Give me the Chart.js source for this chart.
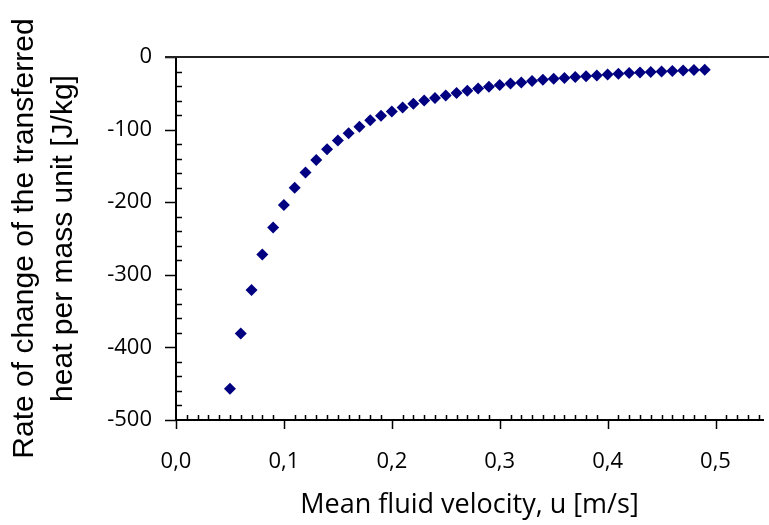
<!DOCTYPE html>
<html>
<head>
<meta charset="utf-8">
<script src="https://cdn.jsdelivr.net/npm/chart.js@4.4.1/dist/chart.umd.min.js"></script>
<style>
  body { margin: 0; background: #fff; }
  #wrap { width: 769px; height: 525px; position: relative; }
</style>
</head>
<body>
<div id="wrap"><canvas id="myChart"></canvas></div>
<script>
// mean fluid velocity u [m/s]
const velocity = [0.05, 0.06, 0.07, 0.08, 0.09, 0.10, 0.11, 0.12, 0.13, 0.14,
    0.15, 0.16, 0.17, 0.18, 0.19, 0.20, 0.21, 0.22, 0.23, 0.24,
    0.25, 0.26, 0.27, 0.28, 0.29, 0.30, 0.31, 0.32, 0.33, 0.34,
    0.35, 0.36, 0.37, 0.38, 0.39, 0.40, 0.41, 0.42, 0.43, 0.44,
    0.45, 0.46, 0.47, 0.48, 0.49];
// rate of change of transferred heat [J/kg]
const heatRate = [-457, -381, -321, -272, -235, -204, -180, -159, -142, -127,
    -115, -105, -96, -87, -81, -75, -69.5, -64.5, -60, -56.5,
    -53, -49.5, -46.5, -43.5, -41, -38.5, -36.5, -35, -33, -31.5,
    -30, -29, -27.5, -26.5, -25.5, -24, -23, -22, -21.5, -20.5,
    -20, -19.3, -18.5, -18, -17.5];
const xTicks = [0, 0.1, 0.2, 0.3, 0.4, 0.5];

const points = velocity.map((u, i) => ({x: u, y: heatRate[i]}));

// ticks like the excel plot: major outside, minor inside
const axisTicks = {
    id: 'axisTicks',
    afterDraw(chart) {
        const c = chart.ctx;
        const xs = chart.scales.x, ys = chart.scales.y;
        const ax = xs.getPixelForValue(0);
        const ay = ys.getPixelForValue(-500);
        c.save();
        c.strokeStyle = '#000';
        c.lineWidth = 1.5;
        c.beginPath();
        for (let v = -500; v <= 0; v += 20) {
            const py = Math.round(ys.getPixelForValue(v)) + 0.5;
            if (v % 100 === 0) { c.moveTo(ax - 11, py); c.lineTo(ax, py); }
            else { c.moveTo(ax, py); c.lineTo(ax + 6, py); }
        }
        for (let k = 0; k <= 54; k++) {
            const px = Math.round(xs.getPixelForValue(k / 100)) + 0.5;
            if (k % 10 === 0) { c.moveTo(px, ay); c.lineTo(px, ay + 9); }
            else { c.moveTo(px, ay); c.lineTo(px, ay - 5); }
        }
        c.stroke();
        // line at y = 0
        const y0 = ys.getPixelForValue(0);
        c.lineWidth = 2;
        c.strokeStyle = '#222';
        c.beginPath();
        c.moveTo(ax - 11, y0);
        c.lineTo(chart.width, y0);
        c.stroke();
        c.restore();
    }
};

const ctx = document.getElementById('myChart');
new Chart(ctx, {
    type: 'scatter',
    data: {
        datasets: [{
            label: 'heat',
            data: points,
            pointStyle: 'rectRot',
            pointRadius: 6,
            pointHoverRadius: 6,
            backgroundColor: '#000080',
            borderColor: '#000080',
            borderWidth: 0
        }]
    },
    options: {
        responsive: true,
        maintainAspectRatio: false,
        animation: false,
        layout: { padding: { top: 57, right: 0, left: 0, bottom: 0 } },
        plugins: {
            legend: { display: false },
            tooltip: { enabled: false }
        },
        scales: {
            x: {
                type: 'linear',
                min: 0,
                max: 0.544,
                afterBuildTicks: (scale) => { scale.ticks = xTicks.map(v => ({value: v})); },
                afterFit: (scale) => { scale.height = 105; },
                grid: { display: false, drawTicks: false },
                border: { display: true, color: '#000', width: 2 },
                ticks: {
                    autoSkip: false,
                    maxRotation: 0,
                    padding: 29,
                    color: '#000',
                    font: { family: 'Open Sans', size: 22 },
                    callback: (v) => v.toFixed(1).replace('.', ',')
                },
                title: {
                    display: true,
                    text: 'Mean fluid velocity, u [m/s]',
                    color: '#000',
                    font: { family: 'Open Sans', size: 27 },
                    padding: { top: 0, bottom: 3 }
                }
            },
            y: {
                min: -500,
                max: 0,
                afterFit: (scale) => { scale.width = 176; },
                grid: { display: false, drawTicks: false },
                border: { display: true, color: '#000', width: 2 },
                ticks: {
                    stepSize: 100,
                    padding: 24,
                    color: '#000',
                    font: { family: 'Open Sans', size: 22 }
                },
                title: {
                    display: true,
                    text: ['Rate of change of the transferred', 'heat per mass unit [J/kg]'],
                    color: '#000',
                    font: { family: 'Liberation Sans', size: 30, lineHeight: 1.3 },
                    padding: { top: 5, bottom: 0 }
                }
            }
        }
    },
    plugins: [axisTicks]
});
</script>
</body>
</html>
